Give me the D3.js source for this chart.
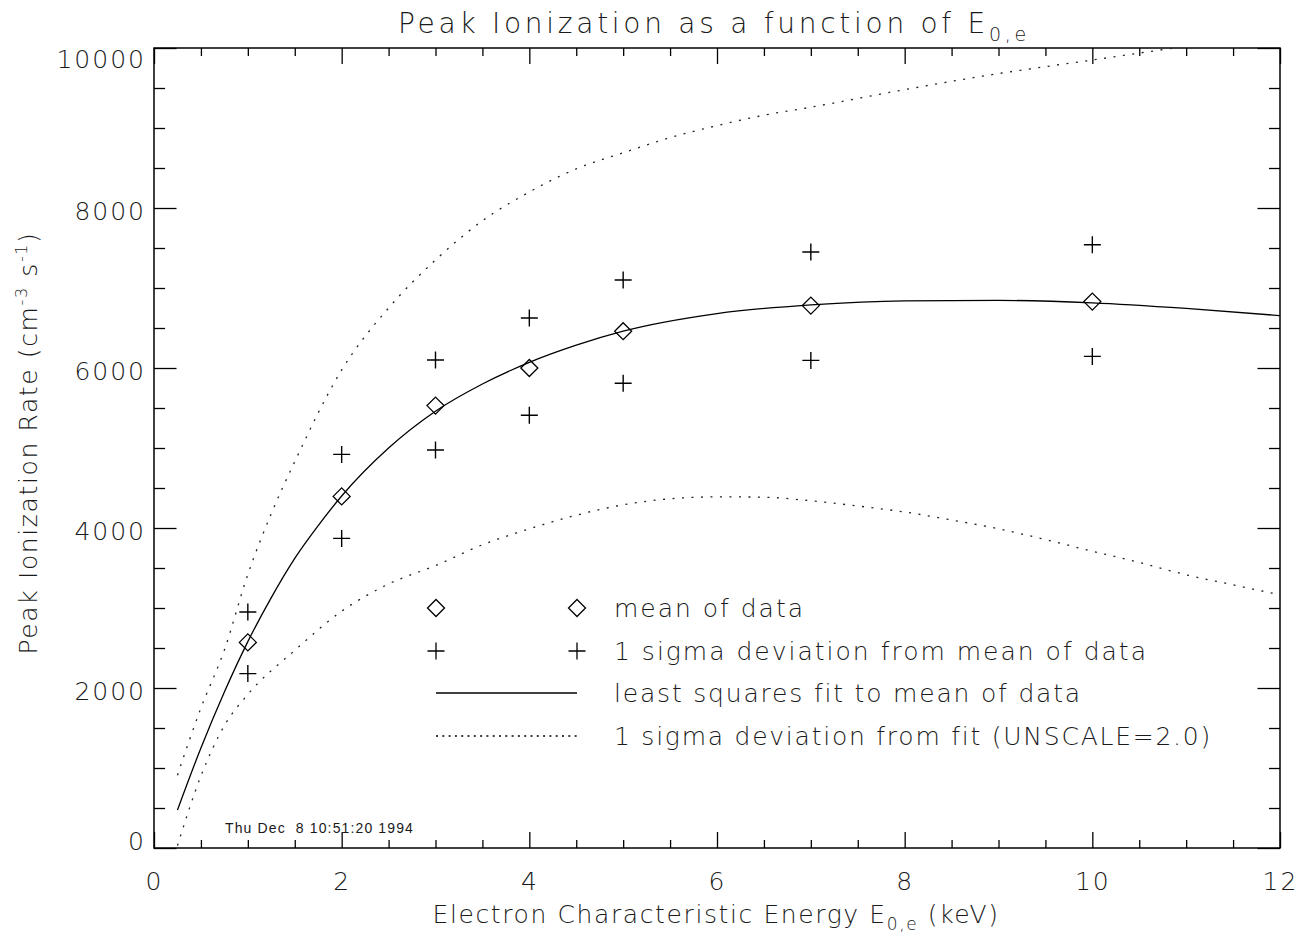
<!DOCTYPE html>
<html>
<head>
<meta charset="utf-8">
<script src="https://cdn.jsdelivr.net/npm/d3@7"></script>
<style>
  body { margin: 0; background: #fff; }
  svg { display: block; }
  text { font-family: "DejaVu Sans", sans-serif; font-weight: 200; fill: #1a1a1a; }
  .stamp { font-family: "Liberation Sans", Arial, sans-serif; font-weight: 400; }
</style>
</head>
<body>
<div id="chart"></div>
<script>
// data
var energies = [1, 2, 3, 4, 5, 7, 10];
var meanRate = [2570, 4395, 5530, 6000, 6460, 6780, 6830];
var sigmaUp = [2950, 4920, 6100, 6625, 7100, 7450, 7540];
var sigmaDown = [2180, 3870, 4975, 5410, 5810, 6095, 6145];

// least squares fit
var fitE = [0.25, 0.5, 0.75, 1, 1.25, 1.5, 1.75, 2, 2.5, 3, 3.5, 4, 4.5, 5, 6, 7, 8, 9, 10, 11, 12];
var fitRate = [475, 1250, 1950, 2580, 3130, 3620, 4030, 4400, 5000, 5460, 5800, 6070, 6285, 6460, 6680, 6790, 6840, 6845, 6815, 6745, 6655];

// 1 sigma band around the fit
var upperE = [0.25, 0.5, 0.75, 1, 1.25, 1.5, 2, 2.5, 3, 3.5, 4, 4.5, 5, 5.5, 6, 6.5, 7, 8, 9, 10, 11, 12];
var upperRate = [910, 1750, 2475, 3420, 4180, 4830, 5975, 6750, 7350, 7840, 8200, 8490, 8690, 8880, 9030, 9160, 9260, 9480, 9680, 9850, 10020, 10170];
var lowerE = [0.25, 0.5, 0.75, 1, 1.5, 2, 2.5, 3, 3.5, 4, 4.5, 5, 5.5, 6, 6.5, 7, 7.5, 8, 8.5, 9, 9.5, 10, 10.5, 11, 11.5, 12];
var lowerRate = [30, 900, 1530, 1920, 2470, 2960, 3300, 3530, 3790, 3990, 4160, 4290, 4365, 4390, 4385, 4340, 4275, 4200, 4100, 3990, 3855, 3710, 3570, 3415, 3290, 3165];

// ticks
var xMajor = [0, 2, 4, 6, 8, 10, 12];
var yMajor = [0, 2000, 4000, 6000, 8000, 10000];

var legendLabels = ["mean of data", "1 sigma deviation from mean of data",
    "least squares fit to mean of data", "1 sigma deviation from fit (UNSCALE=2.0)"];

// set margins
var svgWidth = 1309;
var svgHeight = 937;
var margin = { top: 48, right: 29, bottom: 89, left: 154 };
var width = svgWidth - margin.left - margin.right;
var height = svgHeight - margin.top - margin.bottom;

var svg = d3.select("#chart")
    .append("svg")
    .attr("width", svgWidth)
    .attr("height", svgHeight);

var chartGroup = svg.append("g")
    .attr("transform", `translate(${margin.left}, ${margin.top})`);

var x = d3.scaleLinear().domain([0, 12]).range([0, width]);
var y = d3.scaleLinear().domain([0, 10000]).range([height, 0]);

var xMinor = d3.range(0, 12.01, 0.5).filter(function(d) { return d % 2 !== 0; });
var yMinor = d3.range(0, 10001, 500).filter(function(d) { return d % 2000 !== 0; });

// squeeze or spread a text to a measured width
function fitWidth(sel, target) {
    var node = sel.node();
    var w = node.getComputedTextLength();
    var n = node.getNumberOfChars();
    sel.attr("letter-spacing", (target - w) / n);
}

// axes, all ticks pointing inward
function tickAxis(axis, transform) {
    var g = chartGroup.append("g")
        .attr("transform", transform)
        .style("color", "#000")
        .call(axis);
    g.select(".domain").remove();
    g.selectAll("line").attr("stroke-width", 1.3);
    return g;
}

var xAxis = tickAxis(d3.axisBottom(x).tickValues(xMajor).tickSize(-16).tickFormat(d3.format("d")),
    `translate(0, ${height})`);
tickAxis(d3.axisBottom(x).tickValues(xMinor).tickSize(-8).tickFormat(""), `translate(0, ${height})`);
tickAxis(d3.axisTop(x).tickValues(xMajor).tickSize(-16).tickFormat(""), "translate(0, 0)");
tickAxis(d3.axisTop(x).tickValues(xMinor).tickSize(-8).tickFormat(""), "translate(0, 0)");

var yAxis = tickAxis(d3.axisLeft(y).tickValues(yMajor).tickSize(-22.5).tickFormat(d3.format("d")),
    "translate(0, 0)");
tickAxis(d3.axisLeft(y).tickValues(yMinor).tickSize(-11).tickFormat(""), "translate(0, 0)");
tickAxis(d3.axisRight(y).tickValues(yMajor).tickSize(-22.5).tickFormat(""), `translate(${width}, 0)`);
tickAxis(d3.axisRight(y).tickValues(yMinor).tickSize(-11).tickFormat(""), `translate(${width}, 0)`);

xAxis.selectAll("text")
    .attr("y", 42)
    .attr("dy", null)
    .style("font-size", "25px")
    .attr("fill", "#1a1a1a")
    .attr("letter-spacing", 2);

yAxis.selectAll("text")
    .attr("x", -8)
    .attr("dy", null)
    .attr("y", function(d) { return d === 10000 ? 19 : (d === 0 ? 1 : 11); })
    .style("font-size", "25px")
    .attr("fill", "#1a1a1a")
    .attr("letter-spacing", 2);

svg.selectAll(".tick text").attr("font-family", null);

// plot frame
chartGroup.append("rect")
    .attr("width", width)
    .attr("height", height)
    .attr("fill", "none")
    .attr("stroke", "#000")
    .attr("stroke-width", 1.5);

chartGroup.append("clipPath")
    .attr("id", "plot-clip")
    .append("rect")
    .attr("width", width)
    .attr("height", height);

// curves
var line = d3.line()
    .x(function(d) { return x(d[0]); })
    .y(function(d) { return y(d[1]); })
    .curve(d3.curveMonotoneX);

var curves = chartGroup.append("g").attr("clip-path", "url(#plot-clip)");

curves.append("path")
    .datum(d3.zip(fitE, fitRate))
    .attr("d", line)
    .attr("fill", "none")
    .attr("stroke", "#000")
    .attr("stroke-width", 1.3);

[d3.zip(upperE, upperRate), d3.zip(lowerE, lowerRate)].forEach(function(pts) {
    curves.append("path")
        .datum(pts)
        .attr("d", line)
        .attr("fill", "none")
        .attr("stroke", "#222")
        .attr("stroke-width", 1.3)
        .attr("stroke-dasharray", "2,7.5");
});

// symbols
var diamond = "M0,-8.5L8.5,0L0,8.5L-8.5,0Z";
var plus = "M-8.5,0H8.5M0,-8.5V8.5";

chartGroup.selectAll(".mean")
    .data(d3.zip(energies, meanRate))
    .enter()
    .append("path")
    .attr("class", "mean")
    .attr("transform", function(d) { return `translate(${x(d[0])}, ${y(d[1])})`; })
    .attr("d", diamond)
    .attr("fill", "none")
    .attr("stroke", "#000")
    .attr("stroke-width", 1.3);

chartGroup.selectAll(".sigma")
    .data(d3.zip(energies, sigmaUp).concat(d3.zip(energies, sigmaDown)))
    .enter()
    .append("path")
    .attr("class", "sigma")
    .attr("transform", function(d) { return `translate(${x(d[0])}, ${y(d[1])})`; })
    .attr("d", plus)
    .attr("fill", "none")
    .attr("stroke", "#000")
    .attr("stroke-width", 1.4);

// legend
var legendRows = [608, 651, 693, 736];
var legendWidths = [191, 534, 468, 598];
var legend = svg.append("g");

legendRows.forEach(function(ry, i) {
    if (i < 2) {
        [436, 577].forEach(function(sx) {
            legend.append("path")
                .attr("transform", `translate(${sx}, ${ry})`)
                .attr("d", i === 0 ? diamond : plus)
                .attr("fill", "none")
                .attr("stroke", "#000")
                .attr("stroke-width", 1.3);
        });
    } else {
        legend.append("line")
            .attr("x1", 436).attr("x2", 577)
            .attr("y1", ry).attr("y2", ry)
            .attr("stroke", "#000")
            .attr("stroke-width", 1.3)
            .attr("stroke-dasharray", i === 3 ? "2,4.3" : null);
    }
    var t = legend.append("text")
        .attr("x", 614)
        .attr("y", ry + 9)
        .style("font-size", "25px")
        .text(legendLabels[i]);
    fitWidth(t, legendWidths[i]);
});

// title
var title = svg.append("text")
    .attr("x", 714)
    .attr("y", 33)
    .attr("text-anchor", "middle")
    .style("font-size", "28px");
title.append("tspan").text("Peak Ionization as a function of E");
title.append("tspan").attr("dy", 8).style("font-size", "19px").text("0,e");
fitWidth(title, 632);

// x axis title
var xTitle = svg.append("text")
    .attr("x", 716)
    .attr("y", 923)
    .attr("text-anchor", "middle")
    .style("font-size", "25px");
xTitle.append("tspan").text("Electron Characteristic Energy E");
xTitle.append("tspan").attr("dy", 7).style("font-size", "17px").text("0,e");
xTitle.append("tspan").attr("dy", -7).text(" (keV)");
fitWidth(xTitle, 567);

// y axis title
var yTitle = svg.append("text")
    .attr("transform", "translate(37, 443) rotate(-90)")
    .attr("text-anchor", "middle")
    .style("font-size", "25px");
yTitle.append("tspan").text("Peak Ionization Rate (cm");
yTitle.append("tspan").attr("dy", -10).style("font-size", "16px").text("-3");
yTitle.append("tspan").attr("dy", 10).text(" s");
yTitle.append("tspan").attr("dy", -10).style("font-size", "16px").text("-1");
yTitle.append("tspan").attr("dy", 10).text(")");
fitWidth(yTitle, 423);

// date stamp
var stamp = svg.append("text")
    .attr("class", "stamp")
    .attr("x", 225)
    .attr("y", 833)
    .attr("xml:space", "preserve")
    .style("font-size", "14px")
    .style("white-space", "pre")
    .text("Thu Dec  8 10:51:20 1994");
fitWidth(stamp, 189);
</script>
</body>
</html>
